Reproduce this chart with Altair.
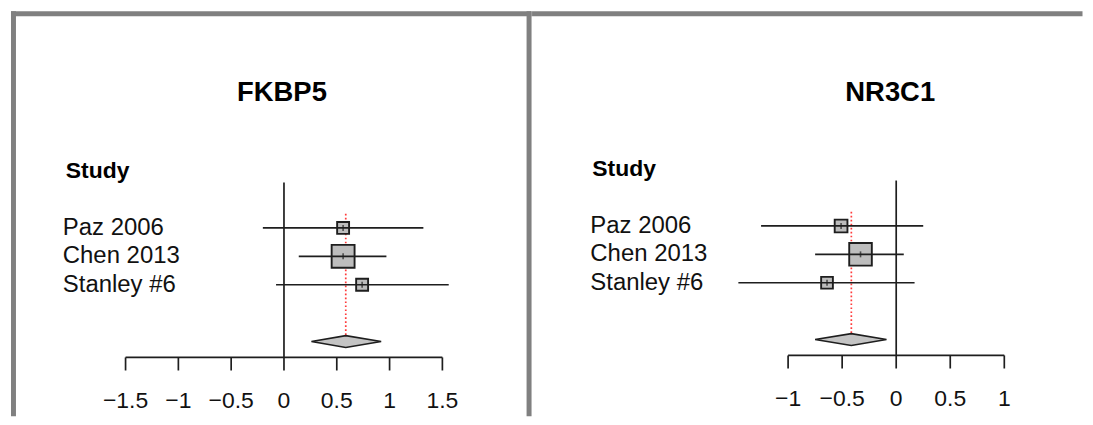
import altair as alt
import pandas as pd

# ---------------- data ----------------
studies = ["Paz 2006", "Chen 2013", "Stanley #6"]
rows = [0, 1, 2]

fkbp5_est = [0.56, 0.56, 0.74]
fkbp5_lower = [-0.20, 0.14, -0.075]
fkbp5_upper = [1.32, 0.97, 1.56]
fkbp5_weight = [17.6, 64.8, 17.6]
fkbp5_pooled = [0.26, 0.585, 0.92]          # lower, estimate, upper
fkbp5_ticks = [-1.5, -1, -0.5, 0, 0.5, 1, 1.5]
fkbp5_tick_labels = ["\u22121.5", "\u22121", "\u22120.5", "0", "0.5", "1", "1.5"]

nr3c1_est = [-0.51, -0.33, -0.64]
nr3c1_lower = [-1.25, -0.75, -1.46]
nr3c1_upper = [0.25, 0.07, 0.17]
nr3c1_weight = [20.0, 63.0, 17.0]
nr3c1_pooled = [-0.75, -0.415, -0.09]
nr3c1_ticks = [-1, -0.5, 0, 0.5, 1]
nr3c1_tick_labels = ["\u22121", "\u22120.5", "0", "0.5", "1"]

# ---------------- layout (row units) ----------------
DIAMOND_ROW = 4
DIAMOND_HALF = 0.21
AXIS_ROW = 4.56
TICK_LEN = 0.46
TICKLABEL_ROW = 6.1
ZERO_TOP = -1.6
REF_TOP = -0.5
HEADER_ROW = -2

H = 409
FONT = "Liberation Sans"
GRAY = "#808080"
INK = "#1e1e1e"
LW = 1.7


def panel(title, est, lower, upper, weight, pooled, ticks, tick_labels,
          width, xdom, ydom, title_x, label_x, header_x, frame):
    xs = alt.Scale(domain=xdom, nice=False, zero=False)
    ys = alt.Scale(domain=ydom, nice=False, zero=False, reverse=True)

    def X(f):
        return alt.X(f, type="quantitative", scale=xs, axis=None)

    def X2(f):
        return alt.X2(f)

    def Y(f):
        return alt.Y(f, type="quantitative", scale=ys, axis=None)

    def Y2(f):
        return alt.Y2(f)

    df = pd.DataFrame({"study": studies, "row": rows, "est": est,
                       "lower": lower, "upper": upper, "weight": weight})
    one = pd.DataFrame({"a": [0]})

    zero = alt.Chart(pd.DataFrame({"x": [0], "y": [ZERO_TOP], "y2": [AXIS_ROW]})).mark_rule(
        color=INK, strokeWidth=LW).encode(x=X("x"), y=Y("y"), y2=Y2("y2"))

    ref = alt.Chart(pd.DataFrame({"x": [pooled[1]], "y": [REF_TOP],
                                  "y2": [DIAMOND_ROW - DIAMOND_HALF]})).mark_rule(
        color="#ff3b3b", strokeWidth=1.7, strokeDash=[1.7, 2.3]).encode(x=X("x"), y=Y("y"), y2=Y2("y2"))

    squares = alt.Chart(df).mark_square(
        filled=True, fill="#bdbdbd", stroke=INK, strokeWidth=1.9, opacity=1).encode(
        x=X("est"), y=Y("row"),
        size=alt.Size("weight:Q", scale=alt.Scale(domain=[0, 100], range=[0, 817], zero=True), legend=None))

    ci = alt.Chart(df).mark_rule(color=INK, strokeWidth=LW).encode(
        x=X("lower"), x2=X2("upper"), y=Y("row"))

    center = alt.Chart(df).mark_tick(orient="vertical", size=6, thickness=1.6, color=INK).encode(
        x=X("est"), y=Y("row"))

    dia = pd.DataFrame({
        "x": pooled,
        "top": [DIAMOND_ROW, DIAMOND_ROW - DIAMOND_HALF, DIAMOND_ROW],
        "bot": [DIAMOND_ROW, DIAMOND_ROW + DIAMOND_HALF, DIAMOND_ROW],
    })
    diamond = alt.Chart(dia).mark_area(
        fill="#c4c4c4", stroke=INK, strokeWidth=LW, opacity=1).encode(
        x=X("x"), y=Y("top"), y2=Y2("bot"))

    tdf = pd.DataFrame({"t": ticks, "lab": tick_labels})
    axis_line = alt.Chart(pd.DataFrame({"x": [ticks[0]], "x2": [ticks[-1]], "y": [AXIS_ROW]})).mark_rule(
        color=INK, strokeWidth=LW).encode(x=X("x"), x2=X2("x2"), y=Y("y"))
    axis_ticks = alt.Chart(tdf.assign(y=AXIS_ROW, y2=AXIS_ROW + TICK_LEN)).mark_rule(
        color=INK, strokeWidth=LW).encode(x=X("t"), y=Y("y"), y2=Y2("y2"))
    axis_labels = alt.Chart(tdf.assign(y=TICKLABEL_ROW)).mark_text(
        font=FONT, fontSize=23, color="#111111", baseline="middle", align="center").encode(
        x=X("t"), y=Y("y"), text="lab:N")

    labels = alt.Chart(df).mark_text(
        font=FONT, fontSize=24, color="#111111", baseline="middle", align="left").encode(
        x=alt.value(label_x), y=Y("row"), text="study:N")

    header = alt.Chart(pd.DataFrame({"y": [HEADER_ROW], "t": ["Study"]})).mark_text(
        font=FONT, fontSize=23, fontWeight="bold", color="black", baseline="middle", align="left").encode(
        x=alt.value(header_x), y=Y("y"), text="t:N")

    ttl = alt.Chart(pd.DataFrame({"t": [title]})).mark_text(
        font=FONT, fontSize=27.5, fontWeight="bold", color="black", baseline="middle", align="center").encode(
        x=alt.value(title_x), y=alt.value(85), text="t:N")

    layers = [zero, ref, squares, ci, center, diamond, axis_line, axis_ticks,
              axis_labels, labels, header, ttl]
    for kind, pos in frame:
        if kind == "v":
            layers.append(alt.Chart(one).mark_rule(color=GRAY, strokeWidth=5).encode(
                x=alt.value(pos), y=alt.value(2.5), y2=alt.value(H)))
        else:
            layers.append(alt.Chart(one).mark_rule(color=GRAY, strokeWidth=5).encode(
                x=alt.value(pos[0]), x2=alt.value(pos[1]), y=alt.value(5)))

    return alt.layer(*layers).properties(width=width, height=H)


W1 = 524.5
W2 = 1077 - W1
left = panel("FKBP5", fkbp5_est, fkbp5_lower, fkbp5_upper, fkbp5_weight, fkbp5_pooled,
             fkbp5_ticks, fkbp5_tick_labels, W1,
             xdom=[-276 / 106, (W1 - 276) / 106], ydom=[-220 / 28.5, (H - 220) / 28.5],
             title_x=274, label_x=54, header_x=57,
             frame=[("v", 4.5), ("h", (2, W1)), ("v", W1 - 2.5)])
right = panel("NR3C1", nr3c1_est, nr3c1_lower, nr3c1_upper, nr3c1_weight, nr3c1_pooled,
              nr3c1_ticks, nr3c1_tick_labels, W2,
              xdom=[-365.5 / 108.5, (W2 - 365.5) / 108.5], ydom=[-218 / 28.5, (H - 218) / 28.5],
              title_x=359.5, label_x=58.5, header_x=60.5,
              frame=[("h", (0, W2))])

chart = alt.hconcat(left, right, spacing=0, bounds="flush").properties(
    padding=0).configure_view(stroke=None)

chart.save("out.html", embed_options={"renderer": "svg", "actions": False})
